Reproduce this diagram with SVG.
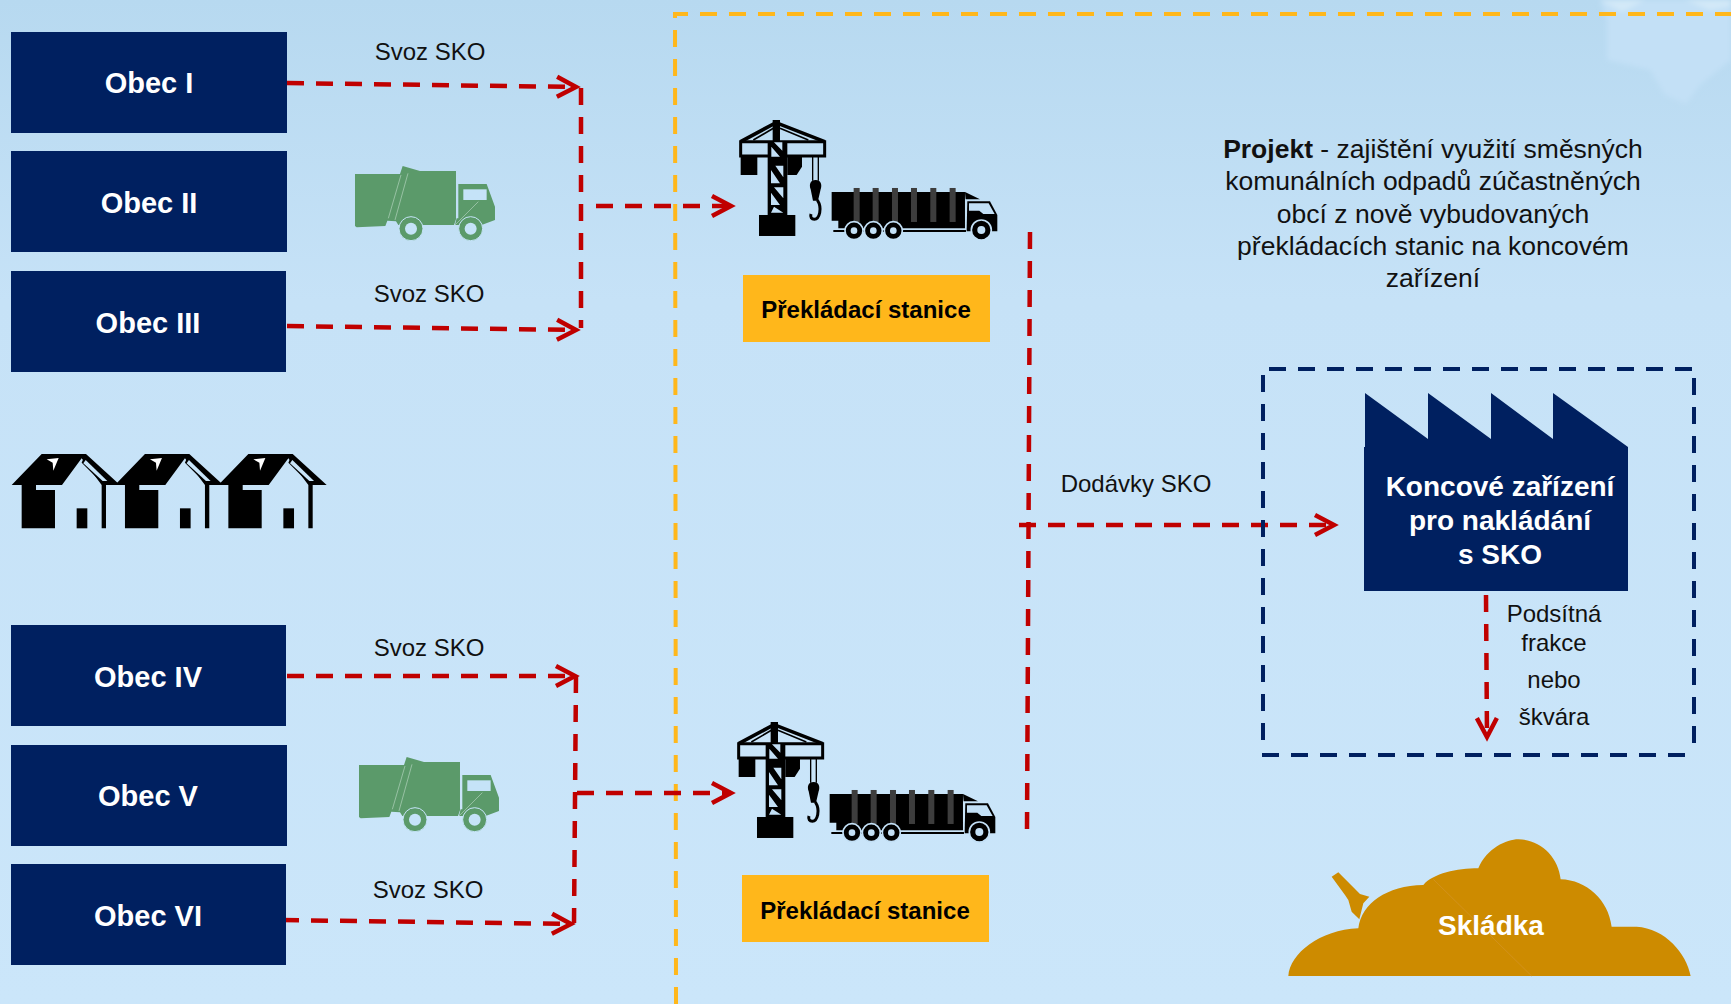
<svg xmlns="http://www.w3.org/2000/svg" xmlns:xlink="http://www.w3.org/1999/xlink" width="1731" height="1004" viewBox="0 0 1731 1004">
<style>
text{font-family:"Liberation Sans",Arial,sans-serif}
.navy{fill:#002060}
.ob{font-size:29px;font-weight:700;fill:#fff;text-anchor:middle}
.fa{font-size:28px;font-weight:700;fill:#fff;text-anchor:middle}
.lb{font-size:24px;fill:#111;text-anchor:middle}
.pr{font-size:26.500px;fill:#111;text-anchor:middle}
.st{font-size:24px;font-weight:700;fill:#000;text-anchor:middle}
.yb{fill:#ffb71b}
.red{fill:none;stroke:#c00000;stroke-width:4.5;stroke-dasharray:17 12}
.redh{fill:none;stroke:#c00000;stroke-width:4.5;stroke-dasharray:17 12;marker-end:url(#ah)}
.yel{fill:none;stroke:#ffb71b;stroke-width:4;stroke-dasharray:17 12}
.nav{fill:none;stroke:#002060;stroke-width:4;stroke-dasharray:17 12}
</style>
<defs>
<linearGradient id="bg" x1="0" y1="0" x2="0" y2="1"><stop offset="0" stop-color="#b7d9f0"/><stop offset="0.3" stop-color="#c6e2f7"/><stop offset="1" stop-color="#cbe6fa"/></linearGradient>
<filter id="soft" x="-10%" y="-10%" width="120%" height="120%"><feGaussianBlur stdDeviation="2.500"/></filter>
<marker id="ah" markerUnits="userSpaceOnUse" markerWidth="30" markerHeight="30" refX="24" refY="15" orient="auto"><path d="M5,5 L24,15 L5,25" fill="none" stroke="#c00000" stroke-width="4.5"/></marker>
<g id="crane" transform="scale(0.3333)">
<rect x="203" y="155" width="59" height="220" fill="#000"/>
<rect x="218" y="90" width="22" height="70" fill="#000"/>
<path d="M122,155 L228,98 L374,155" fill="none" stroke="#000" stroke-width="11"/>
<path d="M122,155 H374 V198 H122 Z" fill="none" stroke="#000" stroke-width="9"/>
<path d="M160,150 L220,115 M240,115 L325,150" fill="none" stroke="#000" stroke-width="5"/>
<rect x="122" y="198" width="50" height="57" fill="#000"/>
<path d="M262,198 H306 V230 L290,255 H262 Z" fill="#000"/>
<path d="M222,157 H247 V182 Z M214,170 V200 H240 Z M226,227 H250 V262 Z M213,240 V280 H240 Z M222,292 H250 V325 Z M213,308 V345 H240 Z M222,350 L250,368 H213 Z" fill="#c3e0f6"/>
<path d="M338,198 V272 M355,198 V272" fill="none" stroke="#000" stroke-width="4"/>
<path d="M347,270 C330,270 327,285 332,298 L339,332 H354 L362,298 C367,285 363,270 347,270 Z" fill="#000"/>
<path d="M352,330 C368,355 358,388 343,388 C335,388 330,382 333,372" fill="none" stroke="#000" stroke-width="9"/>
<rect x="177" y="375" width="109" height="63" fill="#000"/>
</g>
<g id="truck" transform="scale(0.3333)">
<path d="M395,306 H795 V415 H415 V392 H395 Z" fill="#000"/>
<path d="M795,306 L840,328 H797 Z" fill="#000"/>
<path d="M400,420 H798 V426 H400 Z" fill="#000"/>
<g fill="#3d3d3d"><rect x="461" y="294" width="18" height="102"/><rect x="518" y="294" width="18" height="102"/><rect x="576" y="294" width="18" height="102"/><rect x="633" y="294" width="18" height="102"/><rect x="691" y="294" width="18" height="102"/><rect x="749" y="294" width="18" height="102"/></g>
<path d="M802,334 H870 L892,375 V424 H800 Z" fill="#000"/>
<path d="M807,340 H866 L884,372 H850 L838,362 H807 Z" fill="#c3e0f6"/>
<g fill="#000" stroke="#c3e0f6" stroke-width="5">
<circle cx="462" cy="422" r="27"/><circle cx="520" cy="422" r="27"/><circle cx="580" cy="422" r="27"/><circle cx="844" cy="420" r="30"/></g>
<g fill="#c3e0f6"><circle cx="462" cy="422" r="10"/><circle cx="520" cy="422" r="10"/><circle cx="580" cy="422" r="10"/><circle cx="844" cy="420" r="12"/></g>
</g>
<g id="gtruck" transform="scale(0.3333)">
<path d="M45,72 H180 L188,48 L240,63 H348 V208 L342,225 H175 L168,214 L142,212 L136,228 L50,232 L45,228 Z" fill="#5b9a6a"/>
<path d="M355,102 H440 L465,170 V210 L425,225 H345 L350,205 H355 Z" fill="#5b9a6a"/>
<rect x="370" y="118" width="70" height="32" fill="#c5e3f8"/>
<path d="M183,75 L145,205 M204,70 L165,210 M345,225 L415,155" fill="none" stroke="#b5d5c0" stroke-width="2"/>
<g fill="#5b9a6a" stroke="#c5e3f8" stroke-width="3"><circle cx="213" cy="236" r="36"/><circle cx="392" cy="236" r="36"/></g>
<circle cx="213" cy="236" r="18" fill="#c5e3f8"/><circle cx="392" cy="236" r="18" fill="#c5e3f8"/>
</g>
<g id="house" transform="scale(0.3333)">
<path d="M35,135 L125,42 H258 L360,135 H318 V265 H305 V135 L245,55 L186,135 H108 V150 H165 V265 H65 V135 Z" fill="#000"/>
<path d="M305,128 L322,124 L250,56 L245,68 Z" fill="#000"/>
<path d="M250,70 L308,123 H322 L257,60 Z" fill="#c9e5f9"/>
<rect x="230" y="205" width="32" height="60" fill="#000"/>
<path d="M140,58 L176,54 L160,92 L158,68 Z" fill="#fff"/>
</g>
</defs>
<rect id="background" width="1731" height="1004" fill="url(#bg)"/>
<g id="map" filter="url(#soft)">
<path d="M1607,20 L1607,60 L1650,70 L1665,95 L1686,104 L1700,85 L1731,60 V0 H1600 Z" fill="#c3e0f6"/>
<path d="M1600,0 L1622,12 L1645,0 Z M1685,0 L1710,10 L1731,6 V0 Z" fill="#d3e9f8"/>
</g>
<g id="connectors">
<path class="yel" d="M676,1004 L675,14 H1731"/>
<path class="redh" d="M287,83 L576,87"/>
<path class="redh" d="M287,326 L576,330"/>
<path class="red" d="M581,88 V328"/>
<path class="redh" d="M596,206 H731"/>
<path class="redh" d="M287,676 H575"/>
<path class="redh" d="M282,920 L571,924"/>
<path class="red" d="M576,676 L574,923"/>
<path class="redh" d="M577,793 H731"/>
<path class="red" d="M1030,232 L1027,830"/>
<path class="redh" d="M1019,525 H1334"/>
<path class="nav" d="M1269,369 H1695"/>
<path class="nav" d="M1694,378 V752"/>
<path class="nav" d="M1263,375 V745"/>
<path class="nav" d="M1262,755 H1690"/>
<path class="redh" d="M1486,595 L1487,737"/>
</g>
<g id="obec1"><rect class="navy" x="11" y="32" width="276" height="101"/><text class="ob" x="149" y="93">Obec I</text></g>
<g id="obec2"><rect class="navy" x="11" y="151" width="276" height="101"/><text class="ob" x="149" y="213">Obec II</text></g>
<g id="obec3"><rect class="navy" x="11" y="271" width="275" height="101"/><text class="ob" x="148" y="333">Obec III</text></g>
<g id="obec4"><rect class="navy" x="11" y="625" width="275" height="101"/><text class="ob" x="148" y="687">Obec IV</text></g>
<g id="obec5"><rect class="navy" x="11" y="745" width="276" height="101"/><text class="ob" x="148" y="806">Obec V</text></g>
<g id="obec6"><rect class="navy" x="11" y="864" width="275" height="101"/><text class="ob" x="148" y="926">Obec VI</text></g>
<g id="labels">
<text class="lb" x="430" y="60">Svoz SKO</text>
<text class="lb" x="429" y="302">Svoz SKO</text>
<text class="lb" x="429" y="656">Svoz SKO</text>
<text class="lb" x="428" y="898">Svoz SKO</text>
<text class="lb" x="1136" y="492">Dodávky SKO</text>
<text class="lb" x="1554" y="622">Podsítná</text>
<text class="lb" x="1554" y="651">frakce</text>
<text class="lb" x="1554" y="688">nebo</text>
<text class="lb" x="1554" y="725">škvára</text>
</g>
<g id="gtruck1"><use xlink:href="#gtruck" href="#gtruck" transform="translate(340,150)"/></g>
<g id="gtruck2"><use xlink:href="#gtruck" href="#gtruck" transform="translate(344,741)"/></g>
<g id="houses">
<use href="#house" xlink:href="#house" transform="translate(0,440)"/>
<use href="#house" xlink:href="#house" transform="translate(103.300,440)"/>
<use href="#house" xlink:href="#house" transform="translate(206.700,440)"/>
</g>
<g id="station1">
<use href="#crane" xlink:href="#crane" transform="translate(700,90)"/>
<use href="#truck" xlink:href="#truck" transform="translate(700,90)"/>
<rect class="yb" x="743" y="275" width="247" height="67"/>
<text class="st" x="866" y="318">Překládací stanice</text>
</g>
<g id="station2">
<use href="#crane" xlink:href="#crane" transform="translate(698,692)"/>
<use href="#truck" xlink:href="#truck" transform="translate(698,692)"/>
<rect class="yb" x="742" y="875" width="247" height="67"/>
<text class="st" x="865" y="919">Překládací stanice</text>
</g>
<g id="project">
<text class="pr" x="1433" y="158"><tspan font-weight="700">Projekt</tspan> - zajištění využití směsných</text>
<text class="pr" x="1433" y="190">komunálních odpadů zúčastněných</text>
<text class="pr" x="1433" y="223">obcí z nově vybudovaných</text>
<text class="pr" x="1433" y="255">překládacích stanic na koncovém</text>
<text class="pr" x="1433" y="287">zařízení</text>
</g>
<g id="factory">
<path class="navy" d="M1365,393 L1428,439 V393 L1491,439 V393 L1553,439 V393 L1628,447 V591 H1364 V447 H1365 Z"/>
<text class="fa" x="1500" y="496">Koncové zařízení</text>
<text class="fa" x="1500" y="530">pro nakládání</text>
<text class="fa" x="1500" y="564">s SKO</text>
</g>
<g id="landfill">
<g transform="translate(1270,820) scale(0.3333)">
<path d="M55,468 C60,400 150,330 265,325 C275,250 350,197 460,195 C490,160 560,145 625,145 C650,85 710,58 745,58 C810,58 865,110 872,178 C950,180 1015,240 1025,320 L1100,320 C1185,325 1250,400 1262,468 Z" fill="#cd8b00"/>
<path d="M185,170 L205,157 L270,222 L298,230 L280,250 L268,298 L245,275 L235,240 L225,225 Z" fill="#cd8b00"/>
<path d="M490,178 L785,468" stroke="#d4952a" stroke-width="2" fill="none"/>
</g>
<text x="1491" y="935" style="font-size:28px;font-weight:700;fill:#fff;text-anchor:middle">Skládka</text>
</g>
</svg>
